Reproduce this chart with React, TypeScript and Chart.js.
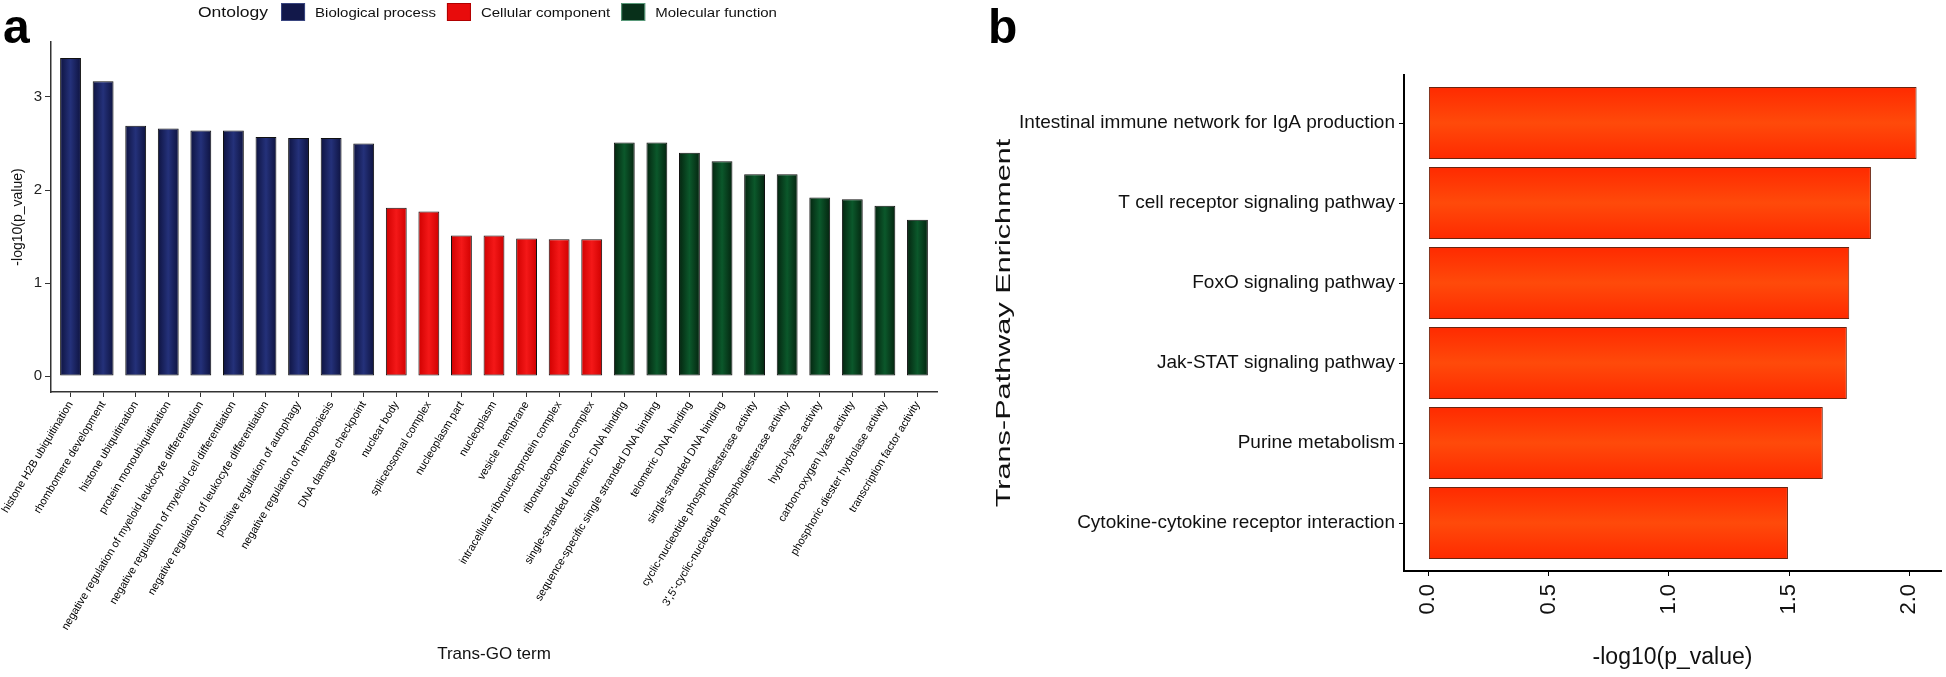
import React, { useEffect, useRef } from 'react';
import { Chart, registerables } from 'chart.js';

Chart.register(...registerables);

// ---------------- data: panel a ----------------
const goTerms = [
  'histone H2B ubiquitination',
  'rhombomere development',
  'histone ubiquitination',
  'protein monoubiquitination',
  'negative regulation of myeloid leukocyte differentiation',
  'negative regulation of myeloid cell differentiation',
  'negative regulation of leukocyte differentiation',
  'positive regulation of autophagy',
  'negative regulation of hemopoiesis',
  'DNA damage checkpoint',
  'nuclear body',
  'spliceosomal complex',
  'nucleoplasm part',
  'nucleoplasm',
  'vesicle membrane',
  'intracellular ribonucleoprotein complex',
  'ribonucleoprotein complex',
  'single-stranded telomeric DNA binding',
  'sequence-specific single stranded DNA binding',
  'telomeric DNA binding',
  'single-stranded DNA binding',
  'cyclic-nucleotide phosphodiesterase activity',
  "3',5'-cyclic-nucleotide phosphodiesterase activity",
  'hydro-lyase activity',
  'carbon-oxygen lyase activity',
  'phosphoric diester hydrolase activity',
  'transcription factor activity',
];
const goValues = [
  3.42, 3.17, 2.69, 2.66, 2.64, 2.64, 2.57, 2.56, 2.56, 2.5,
  1.81, 1.77, 1.51, 1.51, 1.48, 1.47, 1.47,
  2.51, 2.51, 2.4, 2.31, 2.17, 2.17, 1.92, 1.9, 1.83, 1.68,
];
const goOntology = [
  'Biological process', 'Biological process', 'Biological process', 'Biological process', 'Biological process',
  'Biological process', 'Biological process', 'Biological process', 'Biological process', 'Biological process',
  'Cellular component', 'Cellular component', 'Cellular component', 'Cellular component',
  'Cellular component', 'Cellular component', 'Cellular component',
  'Molecular function', 'Molecular function', 'Molecular function', 'Molecular function', 'Molecular function',
  'Molecular function', 'Molecular function', 'Molecular function', 'Molecular function', 'Molecular function',
];
const ontologies = ['Biological process', 'Cellular component', 'Molecular function'];
const legendTitle = 'Ontology';
const goYTicks = [0, 1, 2, 3];
const goYTitle = '-log10(p_value)';
const goXTitle = 'Trans-GO term';
const panelLabelA = 'a';

// ---------------- data: panel b ----------------
const pathways = [
  'Intestinal immune network for IgA production',
  'T cell receptor signaling pathway',
  'FoxO signaling pathway',
  'Jak-STAT signaling pathway',
  'Purine metabolism',
  'Cytokine-cytokine receptor interaction',
];
const pathwayValues = [2.03, 1.84, 1.75, 1.74, 1.64, 1.495];
const pathwayXTicks = [0, 0.5, 1, 1.5, 2];
const pathwayXTitle = '-log10(p_value)';
const pathwayYTitle = 'Trans-Pathway Enrichment';
const panelLabelB = 'b';

// ---------------- styles ----------------
const SANS = '"Liberation Sans", Arial, Helvetica, sans-serif';
const ontologyStyle: Record<string, { edge: string; center: string; key: string; keyBorder: string }> = {
  'Biological process': { edge: '#0e1340', center: '#24317a', key: '#12184a', keyBorder: '#3a4680' },
  'Cellular component': { edge: '#d00000', center: '#f41818', key: '#e80c0c', keyBorder: '#b00000' },
  'Molecular function': { edge: '#04240f', center: '#0b582b', key: '#08301a', keyBorder: '#5a9a7a' },
};

Chart.defaults.font.family = SANS;

function barGradient(c: any, axis: 'x' | 'y', edge: string, center: string, half: number) {
  const chart = c.chart;
  if (!chart.chartArea || c.type !== 'data' || !c.parsed) return center;
  const scale = chart.scales[axis];
  const idx = c.parsed[axis];
  const p = scale.getPixelForValue(idx);
  const hw = Math.abs(scale.getPixelForValue(1) - scale.getPixelForValue(0)) * half;
  const g =
    axis === 'x'
      ? chart.ctx.createLinearGradient(p - hw, 0, p + hw, 0)
      : chart.ctx.createLinearGradient(0, p - hw, 0, p + hw);
  g.addColorStop(0, edge);
  g.addColorStop(0.5, center);
  g.addColorStop(1, edge);
  return g;
}

const decorA = {
  id: 'decorA',
  afterDraw(chart: any) {
    const ctx = chart.ctx as CanvasRenderingContext2D;
    ctx.save();
    ctx.fillStyle = '#000';
    ctx.textBaseline = 'alphabetic';
    ctx.textAlign = 'left';
    ctx.font = `bold 48px ${SANS}`;
    ctx.fillText(panelLabelA, 3, 43);

    const sx = 1.25;
    const base = 16.5;
    const drawStretched = (t: string, x: number, size: number) => {
      ctx.font = `${size}px ${SANS}`;
      const w = ctx.measureText(t).width * sx;
      ctx.save();
      ctx.translate(x, base);
      ctx.scale(sx, 1);
      ctx.fillStyle = '#111';
      ctx.fillText(t, 0, 0);
      ctx.restore();
      return w;
    };
    let x = 198;
    x += drawStretched(legendTitle, x, 14) + 13;
    ontologies.forEach((o) => {
      const st = ontologyStyle[o];
      ctx.fillStyle = st.key;
      ctx.fillRect(x, 3, 24, 18);
      ctx.strokeStyle = st.keyBorder;
      ctx.lineWidth = 1;
      ctx.strokeRect(x + 0.5, 3.5, 23, 17);
      x += 24 + 10;
      x += drawStretched(o, x, 12) + 11;
    });
    ctx.restore();
  },
};

const decorB = {
  id: 'decorB',
  afterDraw(chart: any) {
    const ctx = chart.ctx as CanvasRenderingContext2D;
    const { chartArea } = chart;
    ctx.save();
    ctx.fillStyle = '#000';
    ctx.textBaseline = 'alphabetic';
    ctx.textAlign = 'left';
    ctx.font = `bold 48px ${SANS}`;
    ctx.fillText(panelLabelB, 28, 43);

    ctx.translate(44, (chartArea.top + chartArea.bottom) / 2);
    ctx.rotate(-Math.PI / 2);
    ctx.scale(1.46, 1);
    ctx.font = `21px ${SANS}`;
    ctx.textAlign = 'center';
    ctx.textBaseline = 'middle';
    ctx.fillStyle = '#111';
    ctx.fillText(pathwayYTitle, 0, 0);
    ctx.restore();
  },
};

export default function App() {
  const refA = useRef<HTMLCanvasElement>(null);
  const refB = useRef<HTMLCanvasElement>(null);

  useEffect(() => {
    const chartA = new Chart(refA.current as HTMLCanvasElement, {
      type: 'bar',
      data: {
        datasets: ontologies.map((o) => ({
          label: o,
          data: goTerms
            .map((_, i) => ({ x: i, y: goValues[i], o: goOntology[i] }))
            .filter((d) => d.o === o)
            .map((d) => ({ x: d.x, y: d.y })),
          backgroundColor: (c: any) => barGradient(c, 'x', ontologyStyle[o].edge, ontologyStyle[o].center, 0.32),
          borderColor: '#111',
          borderWidth: 1,
          borderSkipped: false,
          grouped: false,
          barPercentage: 0.64,
          categoryPercentage: 1,
        })),
      } as any,
      options: {
        animation: false,
        responsive: false,
        layout: { padding: { left: 0, right: 23, top: 42, bottom: 0 } },
        plugins: { legend: { display: false }, tooltip: { enabled: false } },
        scales: {
          x: {
            type: 'linear',
            offset: false,
            min: -0.6,
            max: 26.6,
            afterBuildTicks: (s: any) => {
              s.ticks = goTerms.map((_, i) => ({ value: i }));
            },
            afterFit: (s: any) => {
              s.height = 285;
              s.paddingLeft = 0;
              s.paddingRight = 0;
            },
            ticks: {
              callback: (v: any) => goTerms[v] ?? '',
              minRotation: 59,
              maxRotation: 59,
              autoSkip: false,
              font: { size: 11 },
              color: '#000',
              padding: 2,
            },
            grid: { display: true, offset: false, drawOnChartArea: false, drawTicks: true, tickLength: 5, color: '#333' },
            border: { display: true, color: '#333', width: 1.5 },
            title: { display: true, text: goXTitle, font: { size: 17 }, color: '#111', padding: { top: 0, bottom: 12 } },
          },
          y: {
            type: 'linear',
            min: -0.171,
            max: 3.591,
            afterBuildTicks: (s: any) => {
              s.ticks = goYTicks.map((v) => ({ value: v }));
            },
            afterFit: (s: any) => {
              s.width = 51;
              s.paddingTop = 0;
              s.paddingBottom = 0;
            },
            ticks: { font: { size: 15 }, color: '#222', padding: 3 },
            grid: { display: true, drawOnChartArea: false, drawTicks: true, tickLength: 6, color: '#333' },
            border: { display: true, color: '#333', width: 1.5 },
            title: { display: true, text: goYTitle, font: { size: 14 }, color: '#111', padding: { top: 10, bottom: 0 } },
          },
        },
      } as any,
      plugins: [decorA],
    });

    const chartB = new Chart(refB.current as HTMLCanvasElement, {
      type: 'bar',
      data: {
        datasets: [
          {
            label: 'pathways',
            data: pathways.map((_, i) => ({ x: pathwayValues[i], y: i })),
            backgroundColor: (c: any) => barGradient(c, 'y', '#ff2a00', '#ff4a0a', 0.45),
            borderColor: '#6a2410',
            borderWidth: 1,
            borderSkipped: false,
            barPercentage: 0.9,
            categoryPercentage: 1,
          },
        ],
      } as any,
      options: {
        indexAxis: 'y',
        animation: false,
        responsive: false,
        layout: { padding: { left: 0, right: 5, top: 75, bottom: 0 } },
        plugins: { legend: { display: false }, tooltip: { enabled: false } },
        scales: {
          x: {
            type: 'linear',
            min: -0.1015,
            max: 2.1315,
            afterBuildTicks: (s: any) => {
              s.ticks = pathwayXTicks.map((v) => ({ value: v }));
            },
            afterFit: (s: any) => {
              s.height = 106;
              s.paddingLeft = 0;
              s.paddingRight = 0;
            },
            ticks: {
              callback: (v: any) => Number(v).toFixed(1),
              minRotation: 90,
              maxRotation: 90,
              font: { size: 22 },
              color: '#111',
              padding: 8,
            },
            grid: { display: true, drawOnChartArea: false, drawTicks: true, tickLength: 5, color: '#000' },
            border: { display: true, color: '#000', width: 2 },
            title: { display: true, text: pathwayXTitle, font: { size: 23 }, color: '#111', padding: { top: 0, bottom: 6 } },
          },
          y: {
            type: 'linear',
            offset: false,
            reverse: true,
            min: -0.6,
            max: 5.6,
            afterBuildTicks: (s: any) => {
              s.ticks = pathways.map((_, i) => ({ value: i }));
            },
            afterFit: (s: any) => {
              s.width = 444;
              s.paddingTop = 0;
              s.paddingBottom = 0;
            },
            ticks: {
              callback: (v: any) => pathways[v] ?? '',
              autoSkip: false,
              font: { size: 19 },
              color: '#111',
              padding: 4,
            },
            grid: { display: true, offset: false, drawOnChartArea: false, drawTicks: true, tickLength: 5, color: '#000' },
            border: { display: true, color: '#000', width: 2 },
          },
        },
      } as any,
      plugins: [decorB],
    });

    return () => {
      chartA.destroy();
      chartB.destroy();
    };
  }, []);

  return (
    <div style={{ position: 'fixed', left: 0, top: 0, width: 1946, height: 677, background: '#fff', overflow: 'hidden' }}>
      <canvas ref={refA} width={960} height={677} style={{ position: 'absolute', left: 0, top: 0, width: 960, height: 677 }} />
      <canvas ref={refB} width={986} height={677} style={{ position: 'absolute', left: 960, top: 0, width: 986, height: 677 }} />
    </div>
  );
}
